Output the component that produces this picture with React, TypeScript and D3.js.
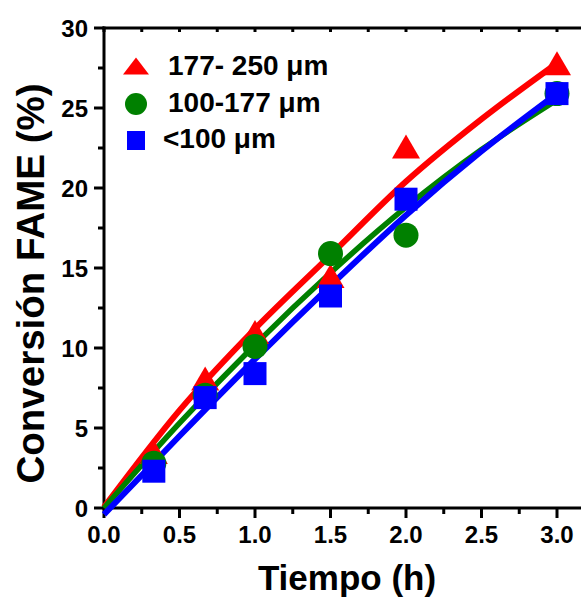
import React from "react";
import * as d3 from "d3";

const timeX = [0.33, 0.67, 1.0, 1.5, 2.0, 3.0];
const red250 = [3.5, 8.1, 11.0, 14.5, 22.6, 27.8];
const green177 = [2.8, 7.05, 10.1, 15.9, 17.05, 25.9];
const blue100 = [2.3, 6.9, 8.4, 13.25, 19.3, 25.9];

const fitX = [0, 0.5, 1.0, 1.5, 2.0, 2.5, 3.0];
const fitRed = [0.05, 6.1, 11.2, 15.8, 20.4, 24.3, 27.8];
const fitGreen = [0, 5.3, 10.2, 14.7, 18.8, 22.4, 25.5];
const fitBlue = [-0.4, 4.5, 9.3, 13.9, 18.3, 22.3, 25.9];

const xTicks = [0, 0.5, 1.0, 1.5, 2.0, 2.5, 3.0];
const xMinor = [0.25, 0.75, 1.25, 1.75, 2.25, 2.75];
const yTicks = [0, 5, 10, 15, 20, 25, 30];
const yMinor = [2.5, 7.5, 12.5, 17.5, 22.5, 27.5];
const legendLabels = ["177- 250 μm", "100-177 μm", "<100 μm"];

const FONT = "'Liberation Sans', Arial, Helvetica, sans-serif";

export default function App() {
  const x = d3.scaleLinear().domain([0, 3.2]).range([104, 104 + 3.2 * 151]);
  const y = d3.scaleLinear().domain([0, 30]).range([508, 28]);
  const line = d3
    .line<number>()
    .x((_, i) => x(fitX[i]))
    .y((d) => y(d))
    .curve(d3.curveMonotoneX);

  const tri = (cx: number, cy: number, w = 28, h = 24) =>
    `M${cx - w / 2},${cy + h / 2}L${cx + w / 2},${cy + h / 2}L${cx},${cy - h / 2}Z`;

  const x0 = x(0);
  const y0 = y(0);
  const xEnd = 581;

  return (
    <svg
      width={581}
      height={597}
      style={{ position: "absolute", left: 0, top: 0, background: "#fff" }}
      fontFamily={FONT}
      fontWeight="bold"
    >
      <rect x={0} y={0} width={581} height={597} fill="#fff" />
      {/* axes lines */}
      <line x1={x0} x2={x0} y1={y(30) - 1.5} y2={y0 + 1.5} stroke="#000" strokeWidth={3} />
      <line x1={x0 - 1.5} x2={xEnd} y1={y0} y2={y0} stroke="#000" strokeWidth={3} />
      <line x1={x0 - 1.5} x2={xEnd} y1={y(30)} y2={y(30)} stroke="#000" strokeWidth={3} />
      {/* y ticks */}
      {yTicks.map((t) => (
        <g key={"yt" + t}>
          <line x1={x0 - 10} x2={x0} y1={y(t)} y2={y(t)} stroke="#000" strokeWidth={3} />
          <text x={88} y={y(t)} dy="0.36em" textAnchor="end" fontSize={24}>
            {t}
          </text>
        </g>
      ))}
      {yMinor.map((t) => (
        <line key={"ym" + t} x1={x0 - 6} x2={x0} y1={y(t)} y2={y(t)} stroke="#000" strokeWidth={3} />
      ))}
      {/* x ticks */}
      {xTicks.map((t) => (
        <g key={"xt" + t}>
          <line x1={x(t)} x2={x(t)} y1={y0} y2={y0 + 10} stroke="#000" strokeWidth={3} />
          <line x1={x(t)} x2={x(t)} y1={y(30)} y2={y(30) + 4} stroke="#000" strokeWidth={3} />
          <text x={x(t)} y={543} textAnchor="middle" fontSize={24}>
            {t.toFixed(1)}
          </text>
        </g>
      ))}
      {xMinor.map((t) => (
        <g key={"xm" + t}>
          <line x1={x(t)} x2={x(t)} y1={y0} y2={y0 + 6} stroke="#000" strokeWidth={3} />
          <line x1={x(t)} x2={x(t)} y1={y(30)} y2={y(30) + 4} stroke="#000" strokeWidth={3} />
        </g>
      ))}
      {/* axis titles */}
      <text x={347} y={590} textAnchor="middle" fontSize={35}>
        Tiempo (h)
      </text>
      <text
        transform={`translate(44,${283.5}) rotate(-90)`}
        textAnchor="middle"
        fontSize={38.5}
      >
        Conversión FAME (%)
      </text>
      {/* fit lines */}
      <path d={line(fitRed) || ""} fill="none" stroke="#ff0000" strokeWidth={6} />
      <path d={line(fitGreen) || ""} fill="none" stroke="#008000" strokeWidth={5.5} />
      <path d={line(fitBlue) || ""} fill="none" stroke="#0000ff" strokeWidth={6} />
      {/* markers */}
      {red250.map((v, i) => (
        <path key={"r" + i} d={tri(x(timeX[i]), y(v))} fill="#ff0000" />
      ))}
      {green177.map((v, i) => (
        <circle key={"g" + i} cx={x(timeX[i])} cy={y(v)} r={12.5} fill="#008000" />
      ))}
      {blue100.map((v, i) => (
        <rect key={"b" + i} x={x(timeX[i]) - 11.5} y={y(v) - 11.5} width={23} height={23} fill="#0000ff" />
      ))}
      {/* legend */}
      <path d={tri(136, 66, 26, 17)} fill="#ff0000" />
      <circle cx={136} cy={104} r={11} fill="#008000" />
      <rect x={127} y={131} width={18} height={19} fill="#0000ff" />
      <text x={168} y={75} fontSize={28}>{legendLabels[0]}</text>
      <text x={168} y={112} fontSize={28}>{legendLabels[1]}</text>
      <text x={163} y={148} fontSize={28}>{legendLabels[2]}</text>
    </svg>
  );
}
